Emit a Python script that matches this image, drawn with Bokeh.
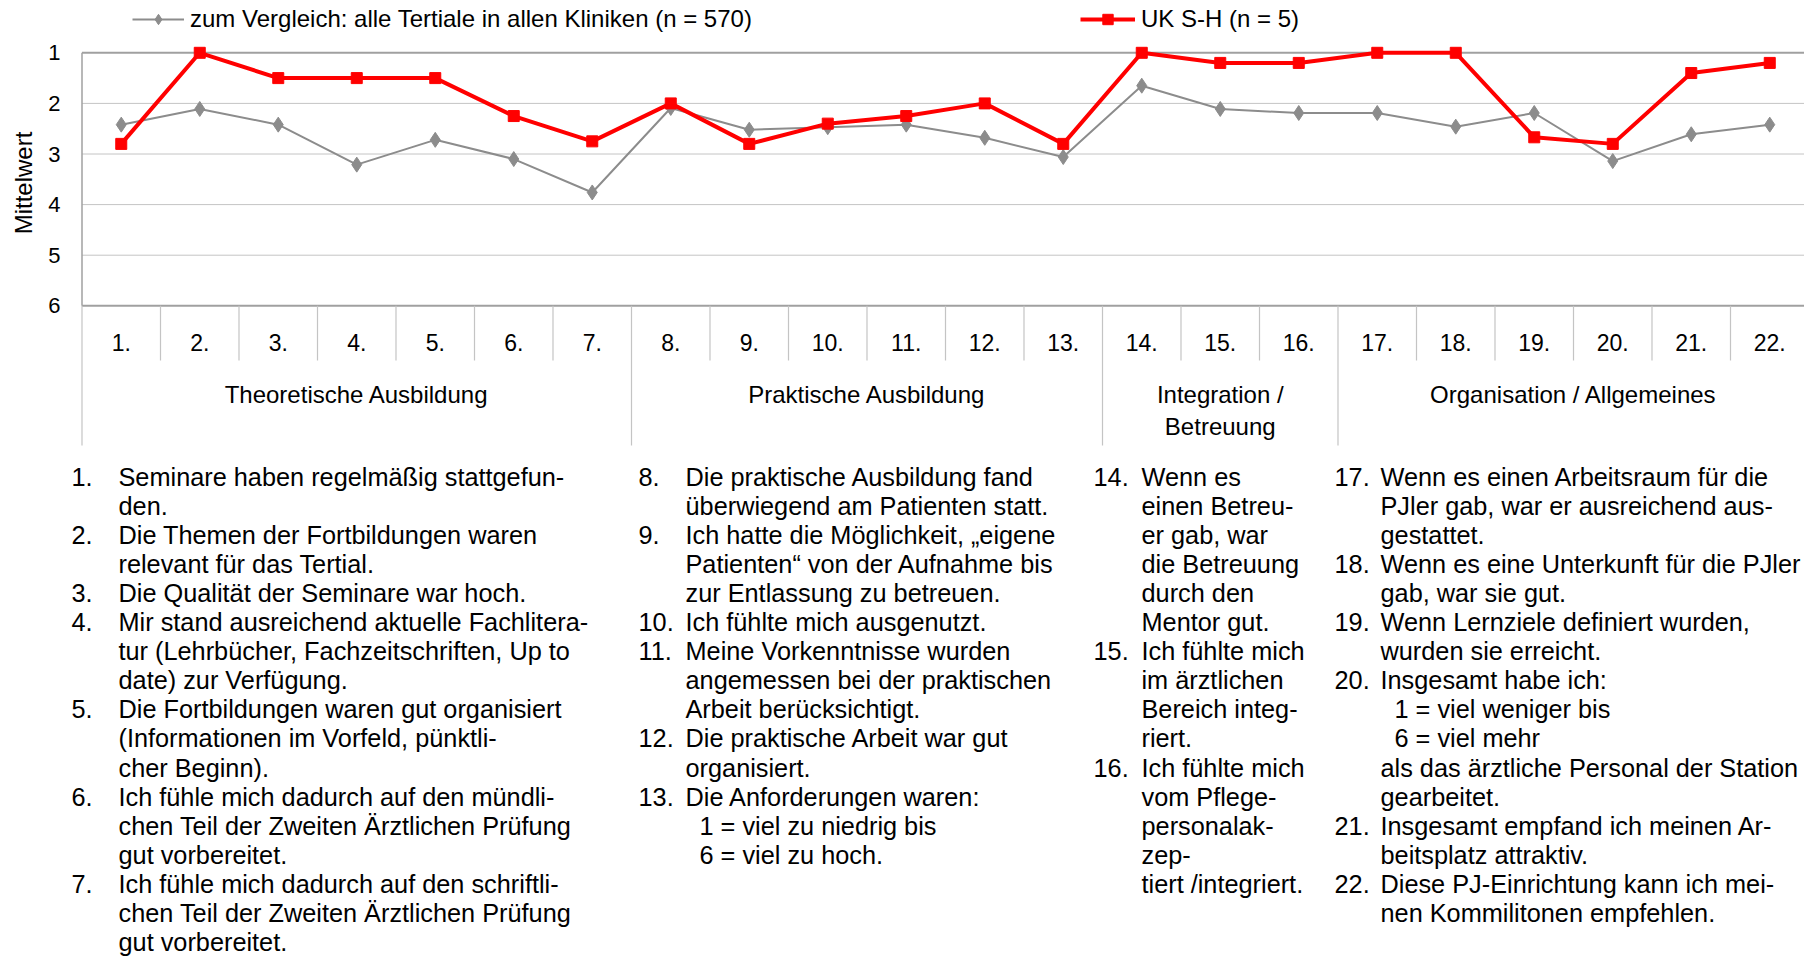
import re
import math
from bokeh.plotting import figure
from bokeh.models import Range1d, Legend, LegendItem
from bokeh.embed import file_html
from bokeh.resources import INLINE
from bokeh.core.properties import value

# ---------------- data ----------------
categories = [f"{i}." for i in range(1, 23)]
group_names = ["Theoretische Ausbildung", "Praktische Ausbildung",
               "Integration /\nBetreuung", "Organisation / Allgemeines"]
group_sizes = [7, 6, 3, 6]
value_ticks = [1, 2, 3, 4, 5, 6]
y_axis_title = "Mittelwert"
all_clinics_label = "zum Vergleich: alle Tertiale in allen Kliniken (n = 570)"
uksh_label = "UK S-H (n = 5)"
all_clinics = [2.42, 2.11, 2.42, 3.21, 2.72, 3.10, 3.76, 2.09, 2.52, 2.47, 2.42,
               2.68, 3.06, 1.65, 2.11, 2.19, 2.19, 2.46, 2.19, 3.14, 2.61, 2.42]
uksh = [2.80, 1.00, 1.50, 1.50, 1.50, 2.25, 2.75, 2.00, 2.80, 2.40, 2.25,
        2.00, 2.80, 1.00, 1.20, 1.20, 1.00, 1.00, 2.67, 2.80, 1.40, 1.20]
item_texts = [
    ["Seminare haben regelmäßig stattgefun-", "den."],
    ["Die Themen der Fortbildungen waren", "relevant für das Tertial."],
    ["Die Qualität der Seminare war hoch."],
    ["Mir stand ausreichend aktuelle Fachlitera-", "tur (Lehrbücher, Fachzeitschriften, Up to", "date) zur Verfügung."],
    ["Die Fortbildungen waren gut organisiert", "(Informationen im Vorfeld, pünktli-", "cher Beginn)."],
    ["Ich fühle mich dadurch auf den mündli-", "chen Teil der Zweiten Ärztlichen Prüfung", "gut vorbereitet."],
    ["Ich fühle mich dadurch auf den schriftli-", "chen Teil der Zweiten Ärztlichen Prüfung", "gut vorbereitet."],
    ["Die praktische Ausbildung fand", "überwiegend am Patienten statt."],
    ["Ich hatte die Möglichkeit, „eigene", "Patienten“ von der Aufnahme bis", "zur Entlassung zu betreuen."],
    ["Ich fühlte mich ausgenutzt."],
    ["Meine Vorkenntnisse wurden", "angemessen bei der praktischen", "Arbeit berücksichtigt."],
    ["Die praktische Arbeit war gut", "organisiert."],
    ["Die Anforderungen waren:", "1 = viel zu niedrig bis", "6 = viel zu hoch."],
    ["Wenn es", "einen Betreu-", "er gab, war", "die Betreuung", "durch den", "Mentor gut."],
    ["Ich fühlte mich", "im ärztlichen", "Bereich integ-", "riert."],
    ["Ich fühlte mich", "vom Pflege-", "personalak-", "zep-", "tiert /integriert."],
    ["Wenn es einen Arbeitsraum für die", "PJler gab, war er ausreichend aus-", "gestattet."],
    ["Wenn es eine Unterkunft für die PJler", "gab, war sie gut."],
    ["Wenn Lernziele definiert wurden,", "wurden sie erreicht."],
    ["Insgesamt habe ich:", "1 = viel weniger bis", "6 = viel mehr", "als das ärztliche Personal der Station", "gearbeitet."],
    ["Insgesamt empfand ich meinen Ar-", "beitsplatz attraktiv."],
    ["Diese PJ-Einrichtung kann ich mei-", "nen Kommilitonen empfehlen."],
]

# ---------------- styling / layout ----------------
FONT = "Liberation Sans"
GRAY = "#8c8c8c"
RED = "#ff0000"
GRID = "#c4c4c4"
BORDER = "#a0a0a0"
TXT = "#000000"
CHART_FS = "23px"
LABEL_FS = "24px"
TICK_FS = "22px"
LIST_FS = "25.3px"

W, H = 1804, 956
X0_PX = 81.5      # pixel column of the left chart edge (category boundary 0.5)
PX_CAT = 78.5     # pixels per category
Y1_PX = 52.3      # pixel row of value 1
PX_UNIT = 50.6    # pixels per value unit

n = len(categories)
xs = list(range(1, n + 1))


def cat_at(px):
    return 0.5 + (px - X0_PX) / PX_CAT


def val(py):
    return value_ticks[0] + (py - Y1_PX) / PX_UNIT


p = figure(width=W, height=H, output_backend="svg", toolbar_location=None,
           x_range=Range1d(cat_at(0), cat_at(W)), y_range=Range1d(val(H), val(0)),
           min_border=0, x_axis_location=None, y_axis_location=None)
p.extra_x_ranges = {"img": Range1d(0, W)}
p.extra_y_ranges = {"img": Range1d(H, 0)}
p.grid.visible = False
p.outline_line_color = None
p.background_fill_color = "white"
p.border_fill_color = "white"

x_left, x_right = 0.5, cat_at(W)
inner = value_ticks[1:-1]
outer = [value_ticks[0], value_ticks[-1]]

# horizontal grid and frame lines
p.segment(x0=[x_left] * len(inner), y0=inner, x1=[x_right] * len(inner), y1=inner,
          line_color=GRID, line_width=1)
p.segment(x0=[x_left] * 2, y0=outer, x1=[x_right] * 2, y1=outer,
          line_color=BORDER, line_width=2)
# value axis line
p.segment(x0=[x_left], y0=[value_ticks[0]], x1=[x_left], y1=[value_ticks[-1]],
          line_color=BORDER, line_width=1.5)

# category / group separators below the chart
bounds = [0.5]
for s in group_sizes:
    bounds.append(bounds[-1] + s)
sep_x = [k + 0.5 for k in range(0, n + 1)]
sep_hi = [val(445) if b in bounds else val(360) for b in sep_x]
p.segment(x0=sep_x, y0=[value_ticks[-1]] * len(sep_x), x1=sep_x, y1=sep_hi,
          line_color=GRID, line_width=1.2)

# value tick labels and axis title
p.text(x=[cat_at(60)] * len(value_ticks), y=value_ticks,
       text=[str(v) for v in value_ticks], text_font=value(FONT),
       text_font_size=TICK_FS, text_color=TXT, text_align="right",
       text_baseline="middle")
p.text(x=[23], y=[182.5], text=[y_axis_title], x_range_name="img", y_range_name="img",
       angle=math.pi / 2, text_font=value(FONT), text_font_size=LABEL_FS,
       text_color=TXT, text_align="center", text_baseline="middle")

# category labels
p.text(x=xs, y=[val(342)] * n, text=categories, text_font=value(FONT),
       text_font_size=CHART_FS, text_color=TXT, text_align="center",
       text_baseline="middle")

# group labels
g_x = [(a + b) / 2 for a, b in zip(bounds[:-1], bounds[1:])]
g_y = [394 + name.count("\n") * 16 for name in group_names]
p.text(x=g_x, y=g_y, text=group_names, y_range_name="img", text_font=value(FONT),
       text_font_size=LABEL_FS, text_color=TXT, text_align="center",
       text_baseline="middle", text_line_height=1.17)

# series
g_line = p.line(xs, all_clinics, line_color=GRAY, line_width=2)
g_pts = p.scatter(xs, all_clinics, marker="diamond", size=15,
                  fill_color=GRAY, line_color=GRAY)
r_line = p.line(xs, uksh, line_color=RED, line_width=4)
r_pts = p.scatter(xs, uksh, marker="square", size=11,
                  fill_color=RED, line_color=RED)

# legend (two separate entries placed above the chart)
leg_kw = dict(label_text_font=FONT, label_text_font_size=LABEL_FS,
              label_text_color=TXT, glyph_height=26, label_height=26,
              label_standoff=6, padding=0, margin=0, spacing=0,
              border_line_color=None, background_fill_alpha=0)
leg_y = H - (20 + 13)
p.add_layout(Legend(items=[LegendItem(label=all_clinics_label, renderers=[g_line, g_pts])],
                    location=(132, leg_y), glyph_width=52, **leg_kw))
p.add_layout(Legend(items=[LegendItem(label=uksh_label, renderers=[r_line, r_pts])],
                    location=(1080, leg_y), glyph_width=55, **leg_kw))

# numbered item list
num_x = [71, 638, 1093, 1334]
txt_x = [118, 685, 1141, 1380]
LINE0 = 476
LH = 29.1
SUB = 14
nx, ny, nt, tx, ty, tt = [], [], [], [], [], []
start = 0
for c, size in enumerate(group_sizes):
    row = 0
    for i in range(start, start + size):
        nx.append(num_x[c]); ny.append(LINE0 + row * LH); nt.append(categories[i])
        for line in item_texts[i]:
            ind = SUB if re.match(r"^\d = ", line) else 0
            tx.append(txt_x[c] + ind); ty.append(LINE0 + row * LH); tt.append(line)
            row += 1
    start += size
for X, Y, T in ((nx, ny, nt), (tx, ty, tt)):
    p.text(x=X, y=Y, text=T, x_range_name="img", y_range_name="img",
           text_font=value(FONT), text_font_size=LIST_FS, text_color=TXT,
           text_align="left", text_baseline="middle")

open("out.html", "w").write(file_html(p, INLINE, title="PJ Evaluation"))
